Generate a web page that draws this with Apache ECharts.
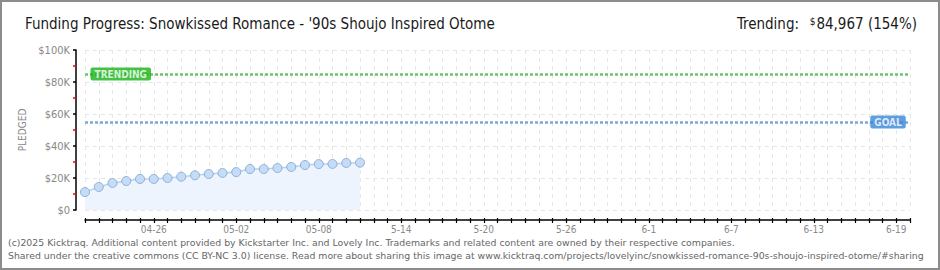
<!DOCTYPE html>
<html><head><meta charset="utf-8">
<script src="https://cdn.jsdelivr.net/npm/echarts@6/dist/echarts.min.js"></script>
<style>
html,body{margin:0;padding:0;background:#fff;}
#c{width:936px;height:266px;border:2px solid #8c8c8c;}
</style></head>
<body><div id="c"></div>
<script>
// Data (day index 0 = 04-21)
const pledged = [11200, 14400, 16900, 18100, 19400, 19400, 20000, 20800, 21700, 22500, 23200, 23700, 25600, 25600, 26200, 26900, 28100, 28700, 28800, 29400, 29600];
const tickDays = [5, 11, 17, 23, 29, 35, 41, 47, 53, 59];
const tickLabels = ['04-26', '05-02', '05-08', '5-14', '5-20', '5-26', '6-1', '6-7', '6-13', '6-19'];
const totalDays = 60;
const trending = 84967;
const goal = 55000;
const trendPct = '154%';
const titleText = "Funding Progress: Snowkissed Romance - '90s Shoujo Inspired Otome";
const footer1 = '(c)2025 Kicktraq. Additional content provided by Kickstarter Inc. and Lovely Inc. Trademarks and related content are owned by their respective companies.';
const footer2 = 'Shared under the creative commons (CC BY-NC 3.0) license. Read more about sharing this image at www.kicktraq.com/projects/lovelyinc/snowkissed-romance-90s-shoujo-inspired-otome/#sharing';

const chart = echarts.init(document.getElementById('c'), null, {renderer: 'svg'});
const pix = 'DejaVu Sans Condensed';
const gridLine = {show: true, lineStyle: {color: '#e6e6e6', type: [4, 4], width: 1}};
const xCommon = {
  type: 'value', min: 0, max: totalDays, interval: 1, position: 'bottom', offset: 10,
};
chart.setOption({
  animation: false,
  grid: {left: 83, right: 28, top: 48, bottom: 58},
  title: [
    {text: titleText, left: 18, top: 9, textStyle: {fontFamily: pix, fontSize: 15, fontWeight: 'normal', color: '#1a1a1a'}},
    {text: '{s|$}' + trending.toLocaleString('en-US') + ' (' + trendPct + ')', right: 16, top: 9,
     textStyle: {fontFamily: pix, fontSize: 15, fontWeight: 'normal', color: '#1a1a1a',
       rich: {s: {fontSize: 10, verticalAlign: 'top', fontFamily: pix, color: '#1a1a1a', padding: [0, 1, 6, 0]}}}},
    {text: 'Trending:', right: 134, top: 9, textStyle: {fontFamily: pix, fontSize: 15, fontWeight: 'normal', color: '#1a1a1a'}}
  ],
  graphic: [
    {type: 'text', left: 6, top: 236, style: {text: footer1, font: '9.35px "DejaVu Sans"', fill: '#666'}},
    {type: 'text', left: 6, top: 249, style: {text: footer2, font: '9.35px "DejaVu Sans"', fill: '#666'}}
  ],
  xAxis: [
    Object.assign({}, xCommon, {
      axisLine: {onZero: false, lineStyle: {color: '#000', width: 1.5}},
      axisTick: {length: 3, lineStyle: {color: '#000', width: 1.2}},
      axisLabel: {margin: 4, fontFamily: pix, fontSize: 10, color: '#8a8a8a',
        formatter: v => { const i = tickDays.indexOf(v); return i >= 0 ? tickLabels[i] : ''; }},
      splitLine: gridLine
    }),
    Object.assign({}, xCommon, {
      axisLine: {show: false, onZero: false},
      axisTick: {inside: true, length: 2, lineStyle: {color: '#000', width: 1.2}},
      axisLabel: {show: false}, splitLine: {show: false}
    })
  ],
  yAxis: {
    type: 'value', min: 0, max: 100000, interval: 20000, offset: 9,
    name: 'PLEDGED', nameLocation: 'middle', nameGap: 48, nameRotate: 90,
    nameTextStyle: {fontFamily: pix, fontSize: 10, color: '#888'},
    axisLine: {show: true, onZero: false, lineStyle: {color: '#000', width: 1.5}},
    axisTick: {show: true, length: 3, lineStyle: {color: '#000', width: 1.5}},
    minorTick: {show: true, splitNumber: 2, length: 3, lineStyle: {color: '#e00', width: 1.5}},
    axisLabel: {margin: 6, fontFamily: pix, fontSize: 11, color: '#888',
      formatter: v => v === 0 ? '$0' : '$' + (v / 1000) + 'K'},
    splitLine: gridLine
  },
  series: [
    {
      type: 'line', data: pledged.map((v, i) => [i, v]),
      symbol: 'circle', symbolSize: 9,
      itemStyle: {color: '#c4dcf6', borderColor: '#8eb0d9', borderWidth: 1},
      lineStyle: {color: '#b6d2f0', width: 1.5},
      areaStyle: {color: '#edf4fd', opacity: 1},
      z: 5
    },
    {
      type: 'line', data: [], silent: true,
      markLine: {
        symbol: 'none', silent: true, label: {show: false},
        data: [
          [{coord: [0, trending], lineStyle: {color: '#6cc36c', type: [3, 2], width: 2.5}}, {coord: [totalDays, trending]}],
          [{coord: [0, goal], lineStyle: {color: '#7aa7dc', type: [3, 2], width: 2.5}}, {coord: [totalDays, goal]}]
        ]
      }
    },
    {
      type: 'scatter', symbolSize: 0, silent: true, z: 10,
      data: [[2.6, trending]],
      label: {show: true, position: 'inside', formatter: 'TRENDING', fontFamily: pix, fontSize: 10, fontWeight: 'bold',
        color: '#fff', backgroundColor: '#17b317', borderRadius: 2, padding: [2, 4, 1, 4]}
    },
    {
      type: 'scatter', symbolSize: 0, silent: true, z: 10,
      data: [[58.4, goal]],
      label: {show: true, position: 'inside', formatter: 'GOAL', fontFamily: pix, fontSize: 10, fontWeight: 'bold',
        color: '#fff', backgroundColor: '#3a86d8', borderRadius: 2, padding: [2, 4, 1, 4]}
    }
  ]
});
</script></body></html>
